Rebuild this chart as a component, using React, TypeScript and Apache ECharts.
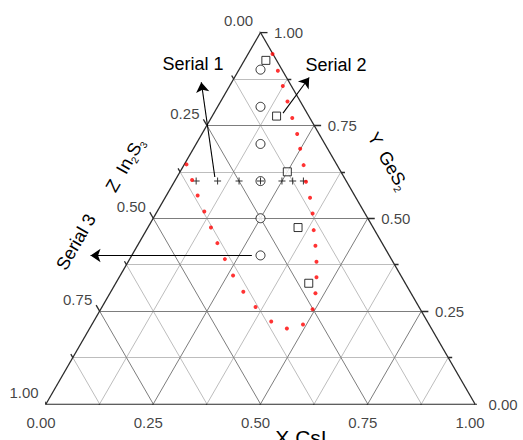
import React, { useEffect, useRef } from "react";
import * as echarts from "echarts";

// ---- data (ternary fractions: X = CsI, Y = GeS2, Z = In2S3 = 1 - X - Y) ----
const gridSteps = [0.125, 0.25, 0.375, 0.5, 0.625, 0.75, 0.875];
const tickSteps = [0, 0.125, 0.25, 0.375, 0.5, 0.625, 0.75, 0.875, 1];
const labelValues = [0, 0.25, 0.5, 0.75, 1];
const tickLabels = ["0.00", "0.25", "0.50", "0.75", "1.00"];

const serial1X = [0.05, 0.1, 0.15, 0.2, 0.25, 0.275, 0.3];
const serial1Y = [0.6, 0.6, 0.6, 0.6, 0.6, 0.6, 0.6];

const serial2X = [0.05, 0.15, 0.25, 0.35, 0.45];
const serial2Y = [0.925, 0.775, 0.625, 0.475, 0.325];

const serial3X = [0.05, 0.1, 0.15, 0.2, 0.25, 0.3];
const serial3Y = [0.9, 0.8, 0.7, 0.6, 0.5, 0.4];

const boundaryX = [
  0.057, 0.092, 0.124, 0.156, 0.189, 0.222, 0.249, 0.279, 0.307, 0.338, 0.365,
  0.39, 0.415, 0.439, 0.46, 0.479, 0.494, 0.492, 0.46, 0.414, 0.358, 0.309,
  0.263, 0.222, 0.183, 0.147, 0.11, 0.073, 0.039, 0.005,
];
const boundaryY = [
  0.942, 0.897, 0.856, 0.814, 0.77, 0.727, 0.687, 0.643, 0.598, 0.555, 0.513,
  0.468, 0.426, 0.383, 0.341, 0.298, 0.255, 0.214, 0.203, 0.222, 0.261, 0.302,
  0.346, 0.39, 0.433, 0.475, 0.518, 0.561, 0.603, 0.645,
];

// annotation arrows, ternary [X, Y] of tail and head
const arrowTails = [
  [0.088, 0.611],
  [0.161, 0.783],
  [0.28, 0.3997],
];
const arrowHeads = [
  [-0.071, 0.866],
  [0.174, 0.879],
  [-0.096, 0.3997],
];

const SQ = Math.sqrt(3) / 2;
const toXY = (X: number, Y: number) => [X + Y / 2, Y * SQ];
const FONT = "'Liberation Sans', Arial, sans-serif";
const PX = 429; // pixels per unit of the triangle side

function seg(a: number[], b: number[]) {
  return { coords: [a, b] };
}

export default function App() {
  const ref = useRef<HTMLDivElement>(null);

  useEffect(() => {
    document.body.style.margin = "0";
    if (!ref.current) return;
    const chart = echarts.init(ref.current, undefined, { renderer: "svg" });

    const minor: any[] = [];
    const major: any[] = [];
    gridSteps.forEach((v, i) => {
      const target = i % 2 === 1 ? major : minor;
      target.push(seg(toXY(1 - v, v), toXY(0, v)));
      target.push(seg(toXY(v, 0), toXY(v, 1 - v)));
      target.push(seg(toXY(1 - v, 0), toXY(0, 1 - v)));
    });

    const edges = [
      seg(toXY(0, 0), toXY(1, 0)),
      seg(toXY(1, 0), toXY(0, 1)),
      seg(toXY(0, 1), toXY(0, 0)),
    ];

    const ticks: any[] = [];
    tickSteps.forEach((v, i) => {
      const isMajor = i % 2 === 0;
      const len = (isMajor ? 7 : 4) / PX;
      const b = toXY(v, 0);
      ticks.push(seg(b, [b[0] - 0.5 * len, b[1] - SQ * len]));
      const r = toXY(1 - v, v);
      ticks.push(seg(r, [r[0] + len, r[1]]));
      const l = toXY(0, 1 - v);
      ticks.push(seg(l, [l[0] - 0.5 * len, l[1] + SQ * len]));
    });

    const labelSeries = (pts: number[][], label: any) => ({
      type: "scatter",
      data: pts,
      symbolSize: 1,
      silent: true,
      itemStyle: { color: "rgba(0,0,0,0)" },
      label: {
        show: true,
        formatter: (p: any) => tickLabels[p.dataIndex],
        fontSize: 15,
        fontFamily: FONT,
        color: "#111",
        ...label,
      },
      z: 5,
    });

    const sub = { fontSize: 10, verticalAlign: "bottom", lineHeight: 10, fontFamily: FONT, fill: "#000" };
    const mainTxt = { fontSize: 18, lineHeight: 22, fontFamily: FONT, fill: "#000" };

    chart.setOption({
      animation: false,
      grid: { left: 46, top: 32.5, width: 429, height: 371.5 },
      xAxis: { type: "value", min: 0, max: 1, show: false },
      yAxis: { type: "value", min: 0, max: SQ, show: false },
      series: [
        {
          type: "lines",
          coordinateSystem: "cartesian2d",
          data: minor,
          silent: true,
          lineStyle: { color: "#bdbdbd", width: 1, opacity: 1 },
          z: 1,
        },
        {
          type: "lines",
          coordinateSystem: "cartesian2d",
          data: major,
          silent: true,
          lineStyle: { color: "#7d7d7d", width: 1, opacity: 1 },
          z: 2,
        },
        {
          type: "lines",
          coordinateSystem: "cartesian2d",
          data: edges.concat(ticks),
          silent: true,
          lineStyle: { color: "#2a2a2a", width: 1.3, opacity: 1 },
          z: 3,
        },
        labelSeries(labelValues.map((v) => toXY(v, 0)), {
          position: "inside",
          offset: [-5, 18],
        }),
        labelSeries(labelValues.map((v) => toXY(1 - v, v)), {
          position: "right",
          distance: 13,
        }),
        labelSeries(labelValues.map((v) => toXY(0, 1 - v)), {
          position: "inside",
          offset: [-22, -12],
        }),
        {
          name: "Serial 3",
          type: "scatter",
          data: serial3X.map((x, i) => toXY(x, serial3Y[i])),
          symbol: "circle",
          symbolSize: 9,
          itemStyle: { color: "#fff", borderColor: "#000", borderWidth: 1 },
          z: 10,
          markLine: {
            silent: true,
            symbol: ["none", "arrow"],
            symbolSize: 10,
            label: { show: false },
            lineStyle: { color: "#000", width: 1.1, type: "solid" },
            data: arrowTails.map((t, i) => [
              { coord: toXY(t[0], t[1]) },
              { coord: toXY(arrowHeads[i][0], arrowHeads[i][1]) },
            ]),
          },
        },
        {
          name: "Serial 1",
          type: "scatter",
          data: serial1X.map((x, i) => toXY(x, serial1Y[i])),
          symbol: "path://M3,0H4V3H7V4H4V7H3V4H0V3H3Z",
          symbolSize: 7,
          itemStyle: { color: "#000" },
          z: 11,
        },
        {
          name: "Serial 2",
          type: "scatter",
          data: serial2X.map((x, i) => toXY(x, serial2Y[i])),
          symbol: "rect",
          symbolSize: 8,
          itemStyle: { color: "#fff", borderColor: "#000", borderWidth: 1 },
          z: 11,
        },
        {
          name: "Boundary",
          type: "scatter",
          data: boundaryX.map((x, i) => toXY(x, boundaryY[i])),
          symbol: "circle",
          symbolSize: 4,
          itemStyle: { color: "#ff0000" },
          z: 12,
        },
      ],
      graphic: [
        {
          type: "text",
          x: 193,
          y: 64,
          style: { text: "Serial 1", fontSize: 18, fontFamily: FONT, fill: "#000", align: "center", verticalAlign: "middle" },
        },
        {
          type: "text",
          x: 336,
          y: 65,
          style: { text: "Serial 2", fontSize: 18, fontFamily: FONT, fill: "#000", align: "center", verticalAlign: "middle" },
        },
        {
          type: "text",
          x: 76,
          y: 242,
          rotation: Math.PI / 3,
          style: { text: "Serial 3", fontSize: 18, fontFamily: FONT, fill: "#000", align: "center", verticalAlign: "middle" },
        },
        {
          type: "text",
          x: 125,
          y: 165,
          rotation: Math.PI / 3,
          style: {
            text: "{m|Z  In}{s|2}{m|S}{s|3}",
            align: "center",
            verticalAlign: "middle",
            rich: { m: mainTxt, s: sub },
          },
        },
        {
          type: "text",
          x: 388,
          y: 161,
          rotation: -Math.PI / 3,
          style: {
            text: "{m|Y  GeS}{s|2}",
            align: "center",
            verticalAlign: "middle",
            rich: { m: mainTxt, s: sub },
          },
        },
        {
          type: "text",
          x: 301,
          y: 427,
          style: { text: "X CsI", fontSize: 21, fontFamily: FONT, fill: "#000", align: "center", verticalAlign: "top" },
        },
      ],
    });

    return () => chart.dispose();
  }, []);

  return <div ref={ref} style={{ width: 523, height: 440 }} />;
}
